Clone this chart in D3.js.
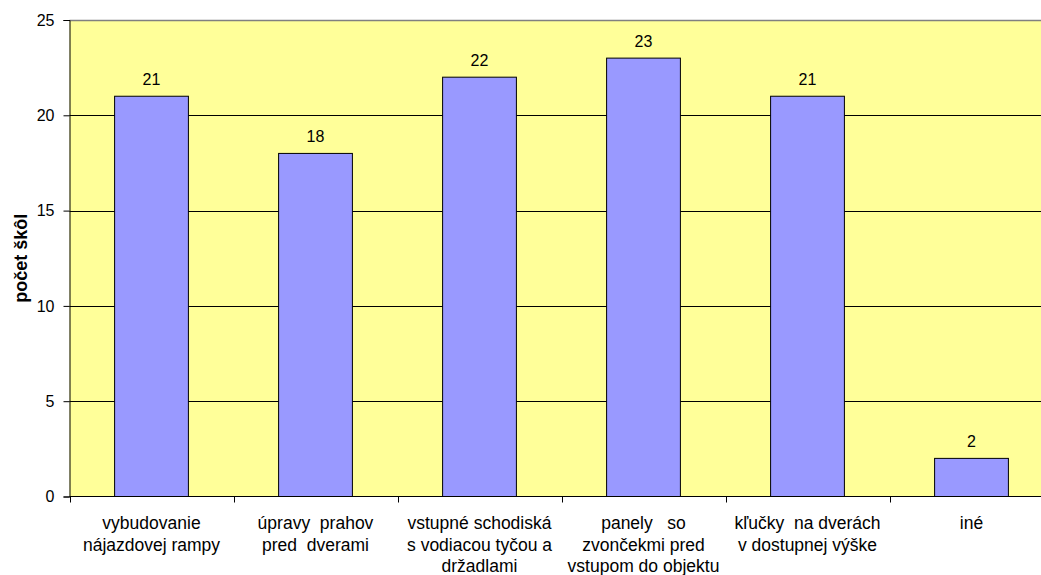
<!DOCTYPE html>
<html><head><meta charset="utf-8">
<script src="https://cdn.jsdelivr.net/npm/d3@7"></script>
<style>body{margin:0;background:#fff}svg text{font-family:"Liberation Sans",Arial,sans-serif}</style>
</head><body>
<svg id="c" width="1041" height="575"></svg>
<script>
const categories = [
  ["vybudovanie","nájazdovej rampy"],
  ["úpravy  prahov","pred  dverami"],
  ["vstupné schodiská","s vodiacou tyčou a","držadlami"],
  ["panely   so","zvončekmi pred","vstupom do objektu"],
  ["kľučky  na dverách","v dostupnej výške"],
  ["iné"]
];
const values = [21,18,22,23,21,2];
const yTicks = [0,5,10,15,20,25];
const yTitle = "počet škôl";

const svg = d3.select("#c");
const L=69.5, R=1053.5, T=20, B=496.5;
const x = d3.scaleBand().domain(d3.range(categories.length)).range([L,R]).padding(0);
const y = d3.scaleLinear().domain([0,25]).range([B,T]);

svg.append("rect").attr("x",L).attr("y",T).attr("width",R-L).attr("height",B-T).attr("fill","#FFFF99");
svg.append("g").selectAll("line").data(yTicks.filter(d=>d>0&&d<25)).join("line")
  .attr("x1",L).attr("x2",R).attr("y1",d=>Math.round(y(d))+0.5).attr("y2",d=>Math.round(y(d))+0.5)
  .attr("stroke","#000").attr("stroke-width",1);
svg.append("line").attr("x1",L).attr("x2",R).attr("y1",T+0.5).attr("y2",T+0.5).attr("stroke","#808080").attr("stroke-width",1.5);

const bw = x.bandwidth()*0.45;
svg.append("g").selectAll("rect").data(values).join("rect")
  .attr("x",(d,i)=>x(i)+(x.bandwidth()-bw)/2).attr("y",d=>y(d)).attr("width",bw).attr("height",d=>B-y(d))
  .attr("fill","#9999FF").attr("stroke","#000").attr("stroke-width",1);

svg.append("g").selectAll("text").data(values).join("text")
  .attr("x",(d,i)=>x(i)+x.bandwidth()/2).attr("y",d=>y(d)-11).attr("text-anchor","middle")
  .attr("font-size",16).attr("fill","#000").text(d=>d);

const ya = svg.append("g").attr("transform",`translate(${L},0)`).call(d3.axisLeft(y).tickValues(yTicks).tickSize(6).tickPadding(9));
ya.select(".domain").attr("stroke","#000");
ya.selectAll(".tick line").attr("stroke","#000");
ya.selectAll("text").attr("font-size",16).attr("fill","#000").attr("font-family","Liberation Sans, Arial, sans-serif");

svg.append("line").attr("x1",L).attr("x2",R).attr("y1",B).attr("y2",B).attr("stroke","#000");
svg.append("g").selectAll("line").data(d3.range(categories.length+1)).join("line")
  .attr("x1",i=>Math.round(L+i*x.step())+0.5).attr("x2",i=>Math.round(L+i*x.step())+0.5)
  .attr("y1",B).attr("y2",B+6).attr("stroke","#000");

const cl = svg.append("g").selectAll("text").data(categories).join("text")
  .attr("text-anchor","middle").attr("font-size",17.5).attr("fill","#000").attr("xml:space","preserve").style("white-space","pre");
cl.each(function(lines,i){
  const t=d3.select(this);
  lines.forEach((s,j)=>t.append("tspan").attr("x",x(i)+x.bandwidth()/2).attr("y",529+j*21.6).text(s));
});

svg.append("text").attr("transform",`translate(27,${(T+B)/2}) rotate(-90)`).attr("text-anchor","middle")
  .attr("font-size",18).attr("font-weight","bold").attr("fill","#000").text(yTitle);
</script>
</body></html>
